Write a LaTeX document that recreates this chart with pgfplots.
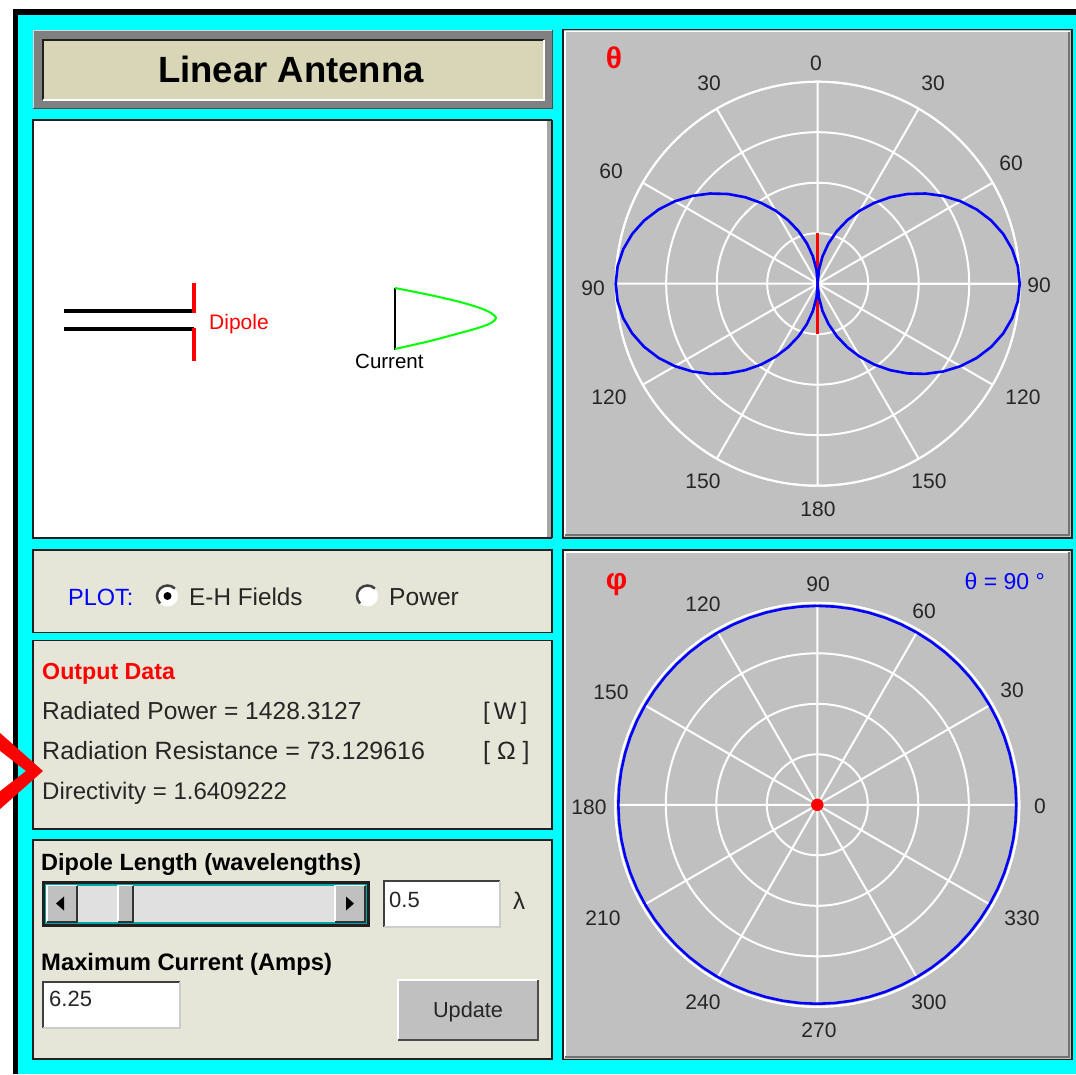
\documentclass[border=0pt]{standalone}
\usepackage{fontspec}
\setmainfont{Liberation Sans}
\usepackage{pgfplots}
\usepackage{pgfplotstable}
\usepgfplotslibrary{polar}
\pgfplotsset{compat=1.18}
\definecolor{cyanbg}{RGB}{0,255,255}
\definecolor{khaki}{RGB}{216,214,182}
\definecolor{beige}{RGB}{230,230,216}
\definecolor{plotgray}{RGB}{192,192,192}
\definecolor{bevel}{RGB}{128,128,128}
\definecolor{darkline}{RGB}{32,32,32}
\newcommand{\fs}[1]{\fontsize{#1}{#1}\selectfont}
% flat panel with dark outline
\newcommand{\panel}[5]{\fill[#5] (#1,#2) rectangle (#3,#4);
  \draw[darkline,line width=1.8pt] (#1,#2) rectangle (#3,#4);}
% sunken box: dark top and left, pale bottom and right
\newcommand{\sunken}[5]{\fill[#5] (#1,#2) rectangle (#3,#4);
  \draw[black!75,line width=2.5pt] (#1,#4) -- (#1,#2) -- (#3,#2);
  \draw[black!20,line width=2.5pt] (#1,#4) -- (#3,#4) -- (#3,#2);}
% theta pattern, E field of the half wave dipole
\pgfplotstableread{
ang r
0 1
5 .9944
10 .9779
15 .9509
20 .9143
25 .8690
30 .8165
35 .7576
40 .6946
45 .6280
50 .5589
55 .4886
60 .4178
65 .3470
70 .2766
75 .2067
80 .1374
85 .0686
90 0
95 .0686
100 .1374
105 .2067
110 .2766
115 .3470
120 .4178
125 .4886
130 .5589
135 .6280
140 .6946
145 .7576
150 .8165
155 .8690
160 .9143
165 .9509
170 .9779
175 .9944
180 1
185 .9944
190 .9779
195 .9509
200 .9143
205 .8690
210 .8165
215 .7576
220 .6946
225 .6280
230 .5589
235 .4886
240 .4178
245 .3470
250 .2766
255 .2067
260 .1374
265 .0686
270 0
275 .0686
280 .1374
285 .2067
290 .2766
295 .3470
300 .4178
305 .4886
310 .5589
315 .6280
320 .6946
325 .7576
330 .8165
335 .8690
340 .9143
345 .9509
350 .9779
355 .9944
360 1
}\thetadata
\pgfplotsset{antenna polar/.style={
    width=404pt, height=404pt, scale only axis,
    ymin=0, ymax=1,
    xtick={0,30,...,330}, ytick={.25,.5,.75,1},
    xticklabels={}, yticklabels={},
    tick style={draw=none},
    grid=both,
    major grid style={white,line width=2pt},
    axis line style={white,line width=2pt},
    clip=false
}}
\begin{document}
\begin{tikzpicture}[x=1pt,y=-1pt]
\path[use as bounding box] (0,0) rectangle (1076,1074);
\fill[white] (0,0) rectangle (1076,1074);
\fill[black] (12.5,9) rectangle (1076,1074);
\fill[cyanbg] (18,15) rectangle (1076,1074);

% title
\fill[bevel] (33,30) rectangle (552,108);
\draw[white!85!black,line width=1pt] (33,108) -- (33,30) -- (552,30);
\draw[black!70,line width=1pt] (33,108) -- (552,108) -- (552,30);
\fill[khaki] (43,40) rectangle (544,100);
\draw[darkline,line width=2pt] (43,100) -- (43,40) -- (544,40);
\draw[white,line width=2pt] (43,100) -- (544,100) -- (544,40);
\node[anchor=base,inner sep=0pt] at (291,82) {\fs{36.5}\bfseries Linear Antenna};

% schematic box
\fill[white] (33,120) rectangle (552,538);
\draw[darkline,line width=1.8pt] (552,120) -- (33,120) -- (33,538) -- (552,538);
\draw[darkline,line width=1.8pt] (552,120) -- (552,538);
\fill[black!35] (547,121) rectangle (551,537);
\begin{axis}[at={(33,120)},anchor=north west,
    width=519pt,height=418pt,scale only axis,
    xmin=33,xmax=552,ymin=120,ymax=538,y dir=reverse,hide axis,clip=false]
  \addplot[mark=none,black,line width=4pt] coordinates {(64,311) (194,311)};
  \addplot[mark=none,black,line width=4pt] coordinates {(64,329) (194,329)};
  \addplot[mark=none,red,line width=4pt] coordinates {(194,283) (194,313)};
  \addplot[mark=none,red,line width=4pt] coordinates {(194,328) (194,361)};
  \addplot[mark=none,black,line width=2pt] coordinates {(395,288) (395,350)};
  \addplot[mark=none,green,line width=2pt,smooth] coordinates {
    (395,288) (430,295) (460,302) (480,308) (491,313) (496,318)
    (491,323) (478,328) (460,333) (430,341) (395,349)};
\end{axis}
\node[anchor=base west,inner sep=0pt,red] at (209,329) {\fs{21}Dipole};
\node[anchor=base west,inner sep=0pt] at (355,368) {\fs{20.5}Current};

% plot selector
\panel{33}{550}{552}{632.5}{beige}
\node[anchor=base west,inner sep=0pt,blue] at (68,605) {\fs{23.5}PLOT:};
\node[anchor=base west,inner sep=0pt,black!85] at (189,605) {\fs{24.3}E-H Fields};
\node[anchor=base west,inner sep=0pt,black!85] at (389,605) {\fs{24.6}Power};
\foreach \cx in {167.5,367.5}{
  \fill[white] (\cx,596) circle (10.5);
  \draw[black!75,line width=2.5pt] (\cx,596) ++(-45:10.5) arc (-45:-225:10.5);
}
\fill[black] (167.5,596) circle (4);

% output data
\panel{33}{640.5}{552}{829}{beige}
\node[anchor=base west,inner sep=0pt,red] at (42,679) {\fs{23.2}\bfseries Output Data};
\node[anchor=base west,inner sep=0pt,black!85] at (42,719) {\fs{24.6}Radiated Power = 1428.3127};
\node[anchor=base west,inner sep=0pt,black!85] at (42,759) {\fs{25}Radiation Resistance = 73.129616};
\node[anchor=base west,inner sep=0pt,black!85] at (42,799.5) {\fs{24}Directivity = 1.6409222};
\node[anchor=base west,inner sep=0pt,black!85] at (483,719) {\fs{24}[\,W\,]};
\node[anchor=base west,inner sep=0pt,black!85] at (483,759) {\fs{25}[ Ω ]};

% dipole length and current
\panel{33}{840}{552}{1059}{beige}
\node[anchor=base west,inner sep=0pt] at (41,870) {\fs{23.5}\bfseries Dipole Length (wavelengths)};
\node[anchor=base west,inner sep=0pt] at (41,970) {\fs{23.8}\bfseries Maximum Current (Amps)};
\fill[darkline] (42,880.5) rectangle (370,927);
\fill[teal!70!cyan] (45,883.5) rectangle (367,924);
\fill[black!12] (47,885.5) rectangle (365,922);
\foreach \a/\b in {47/77,118/133,335/365}{
  \fill[plotgray] (\a,885.5) rectangle (\b,922);
  \draw[white,line width=1.5pt] (\a,922) -- (\a,885.5) -- (\b,885.5);
  \draw[black!80,line width=2pt] (\a,922) -- (\b,922) -- (\b,885.5);
}
\fill[black] (56,903.5) -- (64,896.5) -- (64,910.5) -- cycle;
\fill[black] (354,903.5) -- (346,896.5) -- (346,910.5) -- cycle;
\sunken{384}{881}{500}{927}{white}
\node[anchor=base west,inner sep=0pt,black!85] at (389,907) {\fs{22}0.5};
\node[anchor=base,inner sep=0pt,black!85] at (519,909.5) {\fs{24}λ};
\sunken{43}{982}{180}{1028}{white}
\node[anchor=base west,inner sep=0pt,black!85] at (49,1006.5) {\fs{22}6.25};
\fill[plotgray] (398,980) rectangle (538,1040);
\draw[white,line width=1.5pt] (398,1040) -- (398,980) -- (538,980);
\draw[black!70,line width=2.5pt] (398,1040) -- (538,1040) -- (538,980);
\node[anchor=base,inner sep=0pt,black!85] at (468,1017) {\fs{21.7}Update};

% theta panel
\fill[plotgray] (563,29.5) rectangle (1072,538);
\draw[white,line width=1.5pt] (565,536) -- (565,31.5) -- (1070,31.5);
\draw[black!55,line width=2pt] (565,535) -- (1069,535) -- (1069,31.5);
\draw[darkline,line width=1.8pt] (563,29.5) rectangle (1072,538);
\begin{scope}[x=1cm,y=1cm]
\begin{polaraxis}[antenna polar,at={(817.7pt,-283.7pt)},anchor=origin]
  \addplot[mark=none,red,line width=2.5pt] coordinates {(90,.25) (270,.25)};
  \addplot[mark=none,blue,line width=2.6pt] table[x=ang,y=r] {\thetadata};
\end{polaraxis}
\end{scope}
\node[red,inner sep=0pt] at (614,58) {\fs{30}\bfseries θ};
\foreach \x/\y/\t in {816/63/0,709/83/30,933/83/30,611/171/60,1011/163/60,
    593/288/90,1039/285/90,609/397/120,1023/397/120,703/481/150,929/481/150,818/509/180}{
  \node[inner sep=0pt,black!85] at (\x,\y) {\fs{21}\t};
}

% phi panel
\fill[plotgray] (563,550) rectangle (1072,1059.5);
\draw[white,line width=1.5pt] (565,1057.5) -- (565,552) -- (1070,552);
\draw[black!55,line width=2pt] (565,1056.5) -- (1069,1056.5) -- (1069,552);
\draw[darkline,line width=1.8pt] (563,550) rectangle (1072,1059.5);
\begin{scope}[x=1cm,y=1cm]
\begin{polaraxis}[antenna polar,at={(817.3pt,-804.8pt)},anchor=origin]
  \addplot[mark=none,blue,line width=2.6pt] coordinates {
    (0,.985) (5,.985) (10,.985) (15,.985) (20,.985) (25,.985) (30,.985) (35,.985)
    (40,.985) (45,.985) (50,.985) (55,.985) (60,.985) (65,.985) (70,.985) (75,.985)
    (80,.985) (85,.985) (90,.985) (95,.985) (100,.985) (105,.985) (110,.985) (115,.985)
    (120,.985) (125,.985) (130,.985) (135,.985) (140,.985) (145,.985) (150,.985) (155,.985)
    (160,.985) (165,.985) (170,.985) (175,.985) (180,.985) (185,.985) (190,.985) (195,.985)
    (200,.985) (205,.985) (210,.985) (215,.985) (220,.985) (225,.985) (230,.985) (235,.985)
    (240,.985) (245,.985) (250,.985) (255,.985) (260,.985) (265,.985) (270,.985) (275,.985)
    (280,.985) (285,.985) (290,.985) (295,.985) (300,.985) (305,.985) (310,.985) (315,.985)
    (320,.985) (325,.985) (330,.985) (335,.985) (340,.985) (345,.985) (350,.985) (355,.985)
    (360,.985)};
  \addplot[only marks,mark=*,mark size=6pt,red,mark options={draw=red,fill=red}] coordinates {(0,0)};
\end{polaraxis}
\end{scope}
\node[red,inner sep=0pt] at (616.7,585) {\fs{30}\bfseries φ};
\node[anchor=east,inner sep=0pt,blue] at (1045,581) {\fs{23}θ = 90 °};
\foreach \x/\y/\t in {818/584/90,703/604/120,924/611/60,611/692/150,1012/690/30,
    589/807/180,1040/806/0,603/918/210,1022/918/330,703/1002/240,929/1002/300,819/1030/270}{
  \node[inner sep=0pt,black!85] at (\x,\y) {\fs{21}\t};
}

% pointer arrow over the left edge
\fill[red] (-1,732) -- (43,771) -- (-1,810) -- (-1,792) -- (26,771) -- (-1,750) -- cycle;
\end{tikzpicture}
\end{document}
